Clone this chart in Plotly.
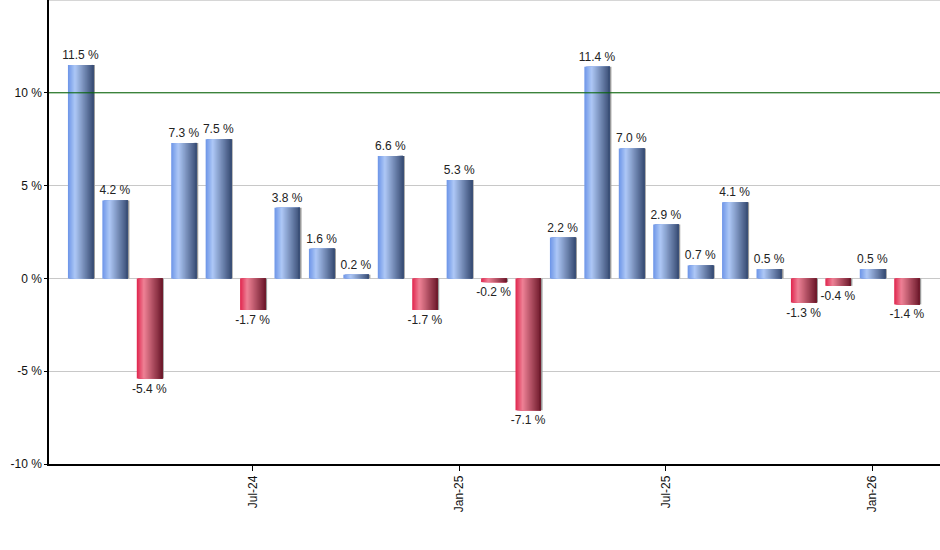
import plotly.graph_objects as go

# Monthly returns, Feb-24 .. Feb-26
months = ["Feb-24", "Mar-24", "Apr-24", "May-24", "Jun-24", "Jul-24", "Aug-24",
          "Sep-24", "Oct-24", "Nov-24", "Dec-24", "Jan-25", "Feb-25", "Mar-25",
          "Apr-25", "May-25", "Jun-25", "Jul-25", "Aug-25", "Sep-25", "Oct-25",
          "Nov-25", "Dec-25", "Jan-26", "Feb-26"]
returns = [11.5, 4.2, -5.4, 7.3, 7.5, -1.7, 3.8, 1.6, 0.2, 6.6, -1.7, 5.3, -0.2,
           -7.1, 2.2, 11.4, 7.0, 2.9, 0.7, 4.1, 0.5, -1.3, -0.4, 0.5, -1.4]
shown_ticks = ["Jul-24", "Jan-25", "Jul-25", "Jan-26"]
y_ticks = [-10, -5, 0, 5, 10]
ref_level = 10

x = list(range(len(months)))
tickvals = [i for i, m in enumerate(months) if m in shown_ticks]
labels = [f"{v:.1f} %" for v in returns]

# gradient stops (position across bar, colour) for up / down bars
blue_stops = [(0.0, (108, 148, 232)), (0.28, (174, 200, 246)), (1.0, (56, 76, 116))]
red_stops = [(0.0, (224, 36, 76)), (0.28, (238, 130, 150)), (1.0, (108, 24, 42))]


def grad(stops, t):
    for (p0, c0), (p1, c1) in zip(stops[:-1], stops[1:]):
        if p0 <= t <= p1:
            f = (t - p0) / (p1 - p0)
            return "rgb(%d,%d,%d)" % tuple(round(a + (b - a) * f) for a, b in zip(c0, c1))
    return "rgb(%d,%d,%d)" % stops[-1][1]


bar_w = 0.74
n_slices = 24
fig = go.Figure()

# soft grey shadow behind each bar
fig.add_trace(go.Bar(x=x, y=returns, width=bar_w, offset=-bar_w / 2 + 0.045,
                     marker=dict(color="#9a9a9a", line_width=0),
                     hoverinfo="skip", showlegend=False))

# each slice runs to the bar's right edge, later ones cover earlier ones
for k in range(n_slices):
    t = (k + 0.5) / n_slices
    cols = [grad(blue_stops if v >= 0 else red_stops, t) for v in returns]
    start = k * bar_w / n_slices
    fig.add_trace(go.Bar(x=x, y=returns, width=bar_w - start,
                         offset=-bar_w / 2 + start,
                         marker=dict(color=cols, line_width=0),
                         hoverinfo="skip", showlegend=False))

# transparent bar only carries the value labels
fig.add_trace(go.Bar(x=x, y=returns, width=bar_w, offset=-bar_w / 2,
                     marker=dict(color="rgba(0,0,0,0)", line_width=0),
                     text=labels, textposition="outside", cliponaxis=False,
                     textfont=dict(size=12, color="#222"),
                     customdata=months,
                     hovertemplate="%{customdata}: %{y:.1f} %<extra></extra>",
                     showlegend=False))

# green reference line and the grey top border
fig.add_shape(type="line", xref="paper", x0=0, x1=1, y0=ref_level, y1=ref_level,
              line=dict(color="#006400", width=1))
fig.add_shape(type="line", xref="paper", yref="paper", x0=0, x1=1, y0=1, y1=1,
              line=dict(color="#c8c8c8", width=1.5))

fig.update_layout(
    width=940, height=550,
    barmode="overlay",
    plot_bgcolor="white", paper_bgcolor="white",
    margin=dict(l=49, r=0, t=0, b=86),
    font=dict(family="Liberation Sans, Arial", size=12, color="#111"),
    uniformtext=dict(minsize=11, mode="show"),
)
fig.update_xaxes(range=[-0.92, 24.96], tickvals=tickvals, automargin=False,
                 ticktext=[months[i] for i in tickvals], tickangle=-90,
                 showline=True, linecolor="black", linewidth=1.5,
                 ticks="outside", ticklen=5, tickcolor="black",
                 showgrid=False, zeroline=False)
fig.update_yaxes(range=[-10, 15], tickvals=y_ticks,
                 ticktext=[f"{v} %" for v in y_ticks], automargin=False,
                 showline=True, linecolor="black", linewidth=1.5,
                 ticks="outside", ticklen=3, tickcolor="black",
                 showgrid=True, gridcolor="#c8c8c8", gridwidth=1,
                 zeroline=True, zerolinecolor="#c8c8c8", zerolinewidth=1)

fig.write_html("out.html", config={"displayModeBar": False},
               post_script="document.body.style.margin='0';")
